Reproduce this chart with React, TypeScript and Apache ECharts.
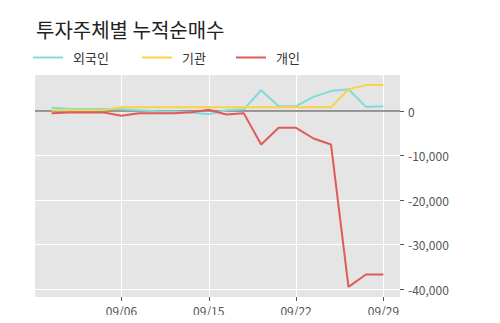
import React, { useEffect, useRef } from "react";
import * as echarts from "echarts";

const dates = [
  "08/31", "09/01", "09/02", "09/05", "09/06", "09/07", "09/08", "09/13", "09/14", "09/15",
  "09/16", "09/19", "09/20", "09/21", "09/22", "09/23", "09/26", "09/27", "09/28", "09/29",
];
const foreign = [750, 550, 500, 500, 400, 200, 0, -100, -300, -700, 200, 400, 4700, 1100, 1100, 3200, 4500, 4900, 950, 1100];
const institution = [200, 200, 200, 250, 850, 850, 850, 850, 850, 850, 850, 850, 850, 850, 850, 850, 850, 4900, 5850, 5850];
const individual = [-500, -300, -300, -300, -1050, -500, -450, -450, -230, 300, -750, -450, -7500, -3750, -3750, -6150, -7500, -39500, -36700, -36700];
const xTickIdx = [4, 9, 14, 19];
const yTicks = [-40000, -30000, -20000, -10000, 0];
const seriesNames = ["외국인", "기관", "개인"];
const colors = ["#7fdcdc", "#fbd341", "#e05a5a"];
const legendLeft = [28, 137, 231];

const FONT = "'Noto Sans CJK KR', 'Noto Sans', sans-serif";

export default function App() {
  const ref = useRef<HTMLDivElement>(null);
  useEffect(() => {
    if (!ref.current) return;
    const chart = echarts.init(ref.current, null, { renderer: "svg" });
    const all = [foreign, institution, individual];
    chart.setOption({
      animation: false,
      textStyle: { fontFamily: FONT },
      title: {
        text: "투자주체별 누적순매수",
        left: 31,
        top: 14,
        textStyle: { fontSize: 20, fontWeight: "normal", color: "#222", fontFamily: FONT },
      },
      legend: seriesNames.map((name, k) => ({
        left: legendLeft[k],
        top: 46,
        itemWidth: 30,
        itemHeight: 10,
        icon: "path://M0,4L30,4L30,6L0,6Z",
        textStyle: { fontSize: 13, color: "#333", fontFamily: FONT, padding: [0, 0, 0, 5] },
        data: [name],
      })),
      grid: { left: 35, right: 100, top: 75, bottom: 26, show: true, backgroundColor: "#e5e5e5", borderWidth: 0 },
      xAxis: {
        type: "value",
        min: -0.95,
        max: 19.95,
        axisLine: { show: false, onZero: false },
        axisTick: { show: true, length: 4, lineStyle: { color: "#555" }, customValues: xTickIdx },
        axisLabel: {
          customValues: xTickIdx,
          formatter: (v: number) => dates[Math.round(v)] ?? "",
          fontSize: 12,
          color: "#555",
          margin: 7,
          fontFamily: FONT,
        },
        splitLine: { show: true, lineStyle: { color: "#ffffff", width: 1 } },
      },
      yAxis: {
        type: "value",
        position: "right",
        min: -41770,
        max: 8120,
        axisLine: { show: false, onZero: false },
        axisTick: { show: true, length: 4, lineStyle: { color: "#555" }, customValues: yTicks },
        axisLabel: {
          customValues: yTicks,
          formatter: (v: number) => v.toLocaleString("en-US"),
          fontSize: 12,
          color: "#555",
          margin: 8,
          fontFamily: FONT,
        },
        splitLine: { show: true, lineStyle: { color: "#ffffff", width: 1 } },
      },
      series: seriesNames.map((name, k) => ({
        name,
        type: "line",
        data: all[k].map((v, i) => [i, v]),
        showSymbol: false,
        symbol: "none",
        lineStyle: { color: colors[k], width: 2 },
        itemStyle: { color: colors[k] },
        z: 3 + k,
        markLine:
          k === 0
            ? {
                silent: true,
                symbol: "none",
                label: { show: false },
                lineStyle: { color: "#777", width: 1.5, type: "solid" },
                data: [{ yAxis: 0 }],
                z: 2,
              }
            : undefined,
      })),
    });
    return () => chart.dispose();
  }, []);
  return <div ref={ref} style={{ width: 500, height: 323, margin: -8 }} />;
}
